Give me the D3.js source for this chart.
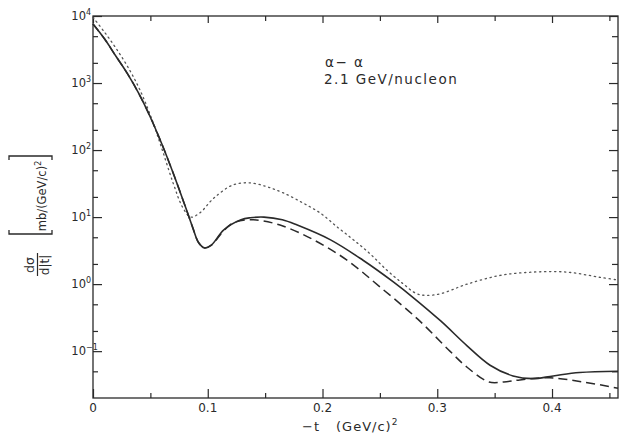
<!DOCTYPE html>
<html><head><meta charset="utf-8">
<script src="https://cdn.jsdelivr.net/npm/d3@7"></script>
<style>
html,body{margin:0;padding:0;background:#fff;}
svg{display:block;font-family:"DejaVu Sans",sans-serif;}
</style></head>
<body><svg id="c" width="620" height="435"></svg>
<script>
// -t values (GeV/c)^2 and dσ/d|t| values (mb/(GeV/c)^2)
const solidT = [0, 0.01, 0.02, 0.03, 0.04, 0.05, 0.06, 0.07, 0.08, 0.087, 0.092, 0.097, 0.103, 0.114, 0.129, 0.137, 0.149, 0.165, 0.178, 0.207, 0.235, 0.262, 0.279, 0.303, 0.326, 0.346, 0.366, 0.383, 0.401, 0.424, 0.4575];
const solidV = [7590, 4570, 2510, 1380, 692, 309, 123, 44.7, 15.1, 6.9, 4.17, 3.47, 3.8, 6.46, 9.12, 9.77, 10, 9.12, 7.59, 4.57, 2.29, 1.07, 0.631, 0.282, 0.120, 0.0617, 0.0427, 0.0389, 0.0427, 0.0479, 0.0501];
const dashT = [0, 0.01, 0.02, 0.03, 0.04, 0.05, 0.06, 0.07, 0.08, 0.087, 0.092, 0.097, 0.103, 0.114, 0.123, 0.140, 0.163, 0.192, 0.221, 0.250, 0.283, 0.311, 0.326, 0.345, 0.358, 0.372, 0.398, 0.427, 0.4575];
const dashV = [7590, 4570, 2510, 1380, 692, 309, 123, 44.7, 15.1, 6.9, 4.17, 3.47, 3.8, 6.3, 8.3, 9.1, 7.6, 4.6, 2.3, 0.91, 0.30, 0.10, 0.0575, 0.0347, 0.0347, 0.0372, 0.040, 0.0347, 0.028];
const dotT = [0, 0.01, 0.02, 0.03, 0.04, 0.05, 0.06, 0.07, 0.078, 0.085, 0.093, 0.105, 0.122, 0.137, 0.152, 0.166, 0.183, 0.198, 0.213, 0.227, 0.241, 0.256, 0.270, 0.282, 0.290, 0.303, 0.326, 0.355, 0.383, 0.413, 0.442, 0.4575];
const dotV = [9550, 5750, 3310, 1780, 851, 331, 105, 31.6, 14.1, 10, 11.5, 19, 30.2, 32.4, 28.2, 22.9, 16.2, 11.5, 7.08, 4.57, 2.88, 1.62, 1.02, 0.72, 0.68, 0.72, 1.0, 1.35, 1.51, 1.51, 1.26, 1.15];
const xTicks = [0, 0.1, 0.2, 0.3, 0.4];
const xTickLabels = ["0", "0.1", "0.2", "0.3", "0.4"];
const xMinorTicks = [0.05, 0.15, 0.25, 0.35, 0.45];
const yTicks = [1e4, 1e3, 1e2, 1e1, 1e0, 1e-1];
const yTickExp = ["4", "3", "2", "1", "0", "−1"];
const yMinorTicks = [5000, 2000, 500, 200, 50, 20, 5, 2, 0.5, 0.2, 0.05];
const annot = ["α− α", "2.1 GeV/nucleon"];

const svg = d3.select("#c");
const L = 93, R = 618, T = 16, B = 398;
const x = d3.scaleLinear().domain([0, 0.4575]).range([L, R]);
const y = d3.scaleLog().domain([0.02, 1e4]).range([B, T]);
const ink = "#2a2a2a";

// frame
svg.append("rect").attr("x", L).attr("y", T).attr("width", R - L).attr("height", B - T)
  .attr("fill", "none").attr("stroke", ink).attr("stroke-width", 1.3);

// axes via d3 axis generators (ticks inward)
const fmtNone = () => "";
const bx = svg.append("g").attr("transform", `translate(0,${B})`)
  .call(d3.axisTop(x).tickValues(xTicks).tickSize(9).tickFormat(fmtNone));
const bxm = svg.append("g").attr("transform", `translate(0,${B})`)
  .call(d3.axisTop(x).tickValues(xMinorTicks).tickSize(5).tickFormat(fmtNone));
const tx = svg.append("g").attr("transform", `translate(0,${T})`)
  .call(d3.axisBottom(x).tickValues(xTicks).tickSize(7).tickFormat(fmtNone));
const txm = svg.append("g").attr("transform", `translate(0,${T})`)
  .call(d3.axisBottom(x).tickValues(xMinorTicks).tickSize(5).tickFormat(fmtNone));
const ly = svg.append("g").attr("transform", `translate(${L},0)`)
  .call(d3.axisRight(y).tickValues(yTicks).tickSize(9).tickFormat(fmtNone));
const lym = svg.append("g").attr("transform", `translate(${L},0)`)
  .call(d3.axisRight(y).tickValues(yMinorTicks).tickSize(5).tickFormat(fmtNone));
const ry = svg.append("g").attr("transform", `translate(${R},0)`)
  .call(d3.axisLeft(y).tickValues(yTicks).tickSize(9).tickFormat(fmtNone));
const rym = svg.append("g").attr("transform", `translate(${R},0)`)
  .call(d3.axisLeft(y).tickValues(yMinorTicks).tickSize(6).tickFormat(fmtNone));
[bx, bxm, tx, txm, ly, lym, ry, rym].forEach(g => {
  g.select(".domain").remove();
  g.selectAll("line").attr("stroke", ink).attr("stroke-width", 1.2);
});

// tick labels
svg.append("g").selectAll("text").data(xTicks).join("text")
  .attr("x", d => x(d)).attr("y", 412).attr("text-anchor", "middle")
  .attr("font-size", 12).attr("fill", ink).text((d, i) => xTickLabels[i]);
svg.append("g").selectAll("text").data(yTicks).join("text")
  .attr("x", 86).attr("y", d => y(d) + 4).attr("text-anchor", "end")
  .attr("font-size", 11.5).attr("fill", ink).text("10");
svg.append("g").selectAll("text").data(yTicks).join("text")
  .attr("x", 86).attr("y", d => y(d) - 1).attr("text-anchor", "start")
  .attr("font-size", 8).attr("fill", ink).text((d, i) => yTickExp[i]);

// curves
const line = d3.line().x(d => x(d[0])).y(d => y(d[1])).curve(d3.curveCatmullRom.alpha(0.5));
const zip = (a, b) => a.map((v, i) => [v, b[i]]);
svg.append("path").datum(zip(dotT, dotV)).attr("d", line).attr("fill", "none")
  .attr("stroke", "#555").attr("stroke-width", 1.3).attr("stroke-dasharray", "1.3,3.7").attr("stroke-linecap", "round");
svg.append("path").datum(zip(dashT, dashV)).attr("d", line).attr("fill", "none")
  .attr("stroke", ink).attr("stroke-width", 1.5).attr("stroke-dasharray", "9,5");
svg.append("path").datum(zip(solidT, solidV)).attr("d", line).attr("fill", "none")
  .attr("stroke", ink).attr("stroke-width", 1.6);

// annotation
svg.append("text").attr("x", 325).attr("y", 67).attr("font-size", 13.5).attr("fill", ink)
  .attr("letter-spacing", 1.5).text(annot[0]);
svg.append("text").attr("x", 324).attr("y", 84).attr("font-size", 13.5).attr("fill", ink)
  .attr("letter-spacing", 1.5).text(annot[1]);

// x axis title
const xt = svg.append("text").attr("x", 302).attr("y", 431).attr("font-size", 13).attr("fill", ink)
  .attr("letter-spacing", 1);
xt.append("tspan").text("−t");
xt.append("tspan").attr("dx", 16).text("(GeV/c)");
xt.append("tspan").attr("dy", -6).attr("font-size", 9).text("2");

// y axis title (rotated)
const yg = svg.append("g").attr("transform", "rotate(-90)");
yg.append("text").attr("x", -265).attr("y", 34).attr("text-anchor", "middle")
  .attr("font-size", 12.5).attr("fill", ink).text("dσ");
yg.append("line").attr("x1", -276).attr("x2", -253).attr("y1", 37.5).attr("y2", 37.5)
  .attr("stroke", ink).attr("stroke-width", 1.2);
yg.append("text").attr("x", -265).attr("y", 49).attr("text-anchor", "middle")
  .attr("font-size", 12).attr("fill", ink).text("d|t|");
const yu = yg.append("text").attr("x", -196).attr("y", 46).attr("text-anchor", "middle")
  .attr("font-size", 11.5).attr("fill", ink);
yu.append("tspan").text("mb/(GeV/c)");
yu.append("tspan").attr("dy", -5).attr("font-size", 8).text("2");
// brackets
yg.append("path").attr("d", "M -230 9 L -234 9 L -234 52 L -230 52")
  .attr("fill", "none").attr("stroke", ink).attr("stroke-width", 1.3);
yg.append("path").attr("d", "M -160 9 L -156 9 L -156 52 L -160 52")
  .attr("fill", "none").attr("stroke", ink).attr("stroke-width", 1.3);
</script></body></html>
